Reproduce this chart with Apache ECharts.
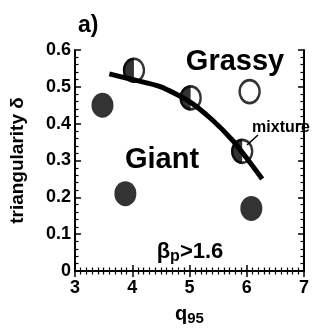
<!DOCTYPE html>
<html><head><meta charset="utf-8">
<script src="https://cdn.jsdelivr.net/npm/echarts@6/dist/echarts.min.js"></script>
<style>html,body{margin:0;padding:0;background:#fff}#c{width:322px;height:331px}</style>
</head><body><div id="c"></div>
<script>
// Data
var filledPts = [[3.48, 0.45], [3.88, 0.21], [6.08, 0.17]];
var halfPts = [[4.03, 0.545], [5.02, 0.47], [5.92, 0.325]];
var openPts = [[6.05, 0.487]];
var curvePts = [[3.6, 0.535], [4.0, 0.52], [4.5, 0.50], [5.0, 0.46], [5.4, 0.41], [5.75, 0.355], [6.03, 0.30], [6.27, 0.25]];
var xTicks = [3, 4, 5, 6, 7];
var yTicks = [0, 0.1, 0.2, 0.3, 0.4, 0.5, 0.6];

var FONT = '"Liberation Sans", Arial, sans-serif';
var ELL = 'path://M0,10A10,10,0,1,1,20,10A10,10,0,1,1,0,10Z';
var HALF = 'path://M10,0A10,10,0,0,0,10,20Z';
var MW = 22, MH = 25;

var chart = echarts.init(document.getElementById('c'), null, {renderer: 'canvas'});
var axisCommon = {
  axisLine: {show: true, lineStyle: {color: '#000', width: 2}},
  axisTick: {show: true, inside: true, length: 6, lineStyle: {color: '#000', width: 1.5}},
  splitLine: {show: false}
};
function xAx(pos, show) {
  return Object.assign({}, JSON.parse(JSON.stringify(axisCommon)), {
    type: 'value', position: pos, min: xTicks[0], max: xTicks[xTicks.length - 1], interval: 1,
    minorTick: {show: true, splitNumber: 10, length: 3.5, lineStyle: {color: '#000', width: 1.2}},
    axisLabel: {show: show, color: '#000', fontFamily: FONT, fontWeight: 'bold', fontSize: 18, margin: 8},
    name: show ? '{q|q}{s|95}' : '', nameLocation: 'middle', nameGap: 32,
    nameTextStyle: {rich: {
      q: {fontFamily: FONT, fontWeight: 'bold', fontSize: 20, color: '#000'},
      s: {fontFamily: FONT, fontWeight: 'bold', fontSize: 15, color: '#000', padding: [8, 0, 0, 0]}
    }}
  });
}
function yAx(pos, show) {
  return Object.assign({}, JSON.parse(JSON.stringify(axisCommon)), {
    type: 'value', position: pos, min: yTicks[0], max: yTicks[yTicks.length - 1], interval: 0.1,
    minorTick: {show: true, splitNumber: 5, length: 3.5, lineStyle: {color: '#000', width: 1.2}},
    axisLabel: {show: show, color: '#000', fontFamily: FONT, fontWeight: 'bold', fontSize: 18, margin: 4,
      formatter: function (v) { return v === 0 ? '0' : v.toFixed(1); }},
    name: show ? 'triangularity δ' : '', nameLocation: 'middle', nameGap: 48, nameRotate: 90,
    nameTextStyle: {fontFamily: FONT, fontWeight: 'bold', fontSize: 19, color: '#000'}
  });
}

chart.setOption({
  animation: false,
  backgroundColor: '#fff',
  grid: {left: 75, right: 18, top: 50, bottom: 54},
  xAxis: [xAx('bottom', true), xAx('top', false)],
  yAxis: [yAx('left', true), yAx('right', false)],
  series: [
    {type: 'scatter', data: filledPts, symbol: ELL, symbolSize: [MW, MH],
      itemStyle: {color: '#000'}, z: 3},
    {type: 'scatter', data: halfPts.concat(openPts), symbol: ELL, symbolSize: [MW - 2, MH - 2],
      itemStyle: {color: '#fff', borderColor: '#000', borderWidth: 2.5}, z: 3},
    {type: 'scatter', data: halfPts, symbol: HALF, symbolSize: [MW / 2, MH], symbolOffset: [-MW / 4, 0],
      itemStyle: {color: '#000'}, z: 4},
    {type: 'line', data: curvePts, smooth: 0.2, showSymbol: false, symbol: 'none',
      lineStyle: {color: '#000', width: 5}, z: 5}
  ],
  graphic: [
    {type: 'text', left: 78, top: 14, style: {text: 'a)', fontFamily: FONT, fontWeight: 'bold', fontSize: 23, fill: '#000'}},
    {type: 'text', x: 235, y: 62, style: {text: 'Grassy', fontFamily: FONT, fontWeight: 'bold', fontSize: 29, fill: '#000', align: 'center', verticalAlign: 'middle'}, z: 10},
    {type: 'text', x: 162, y: 160, style: {text: 'Giant', fontFamily: FONT, fontWeight: 'bold', fontSize: 29, fill: '#000', align: 'center', verticalAlign: 'middle'}, z: 10},
    {type: 'text', x: 281, y: 128, style: {text: 'mixture', fontFamily: FONT, fontWeight: 'bold', fontSize: 16, fill: '#000', align: 'center', verticalAlign: 'middle'}, z: 10},
    {type: 'line', shape: {x1: 258, y1: 135, x2: 247, y2: 145}, style: {stroke: '#000', lineWidth: 1.5}, z: 10},
    {type: 'text', x: 190, y: 252, style: {
      text: '{b|β}{p|p}{b|>1.6}', align: 'center', verticalAlign: 'middle',
      rich: {
        b: {fontFamily: FONT, fontWeight: 'bold', fontSize: 22, fill: '#000', color: '#000'},
        p: {fontFamily: FONT, fontWeight: 'bold', fontSize: 16, fill: '#000', color: '#000', padding: [10, 0, 0, 0]}
      }}, z: 10}
  ]
});
</script></body></html>
